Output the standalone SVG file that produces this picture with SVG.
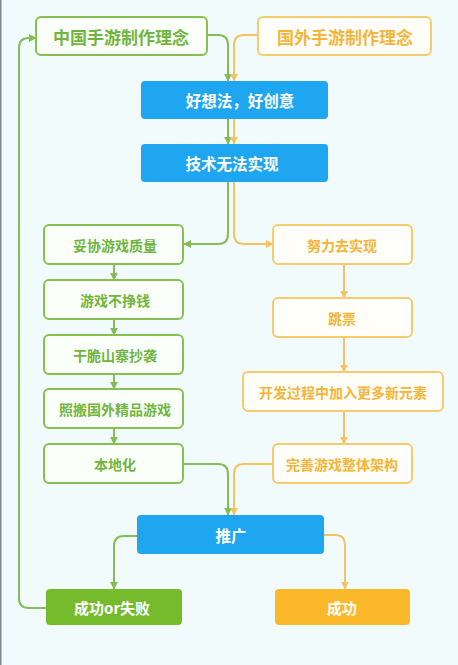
<svg xmlns="http://www.w3.org/2000/svg" width="458" height="665" viewBox="0 0 458 665">
<defs>
<style>
.bg{fill:#f1fbfc}
.gbox{fill:#fbfffa;stroke:#86c04e;stroke-width:2}
.obox{fill:#fffef8;stroke:#f6cb6e;stroke-width:2}
.blue{fill:#1fa6f0}
.gfill{fill:#76bb2c}
.ofill{fill:#fbb82a}
text{font-family:"Noto Sans CJK SC","Noto Sans",sans-serif;font-weight:bold;text-anchor:middle;dominant-baseline:central}
.gt{fill:#72b53e}
.ot{fill:#f3b53a}
.wt{fill:#ffffff}
.gl{fill:none;stroke:#86bb55;stroke-width:2}
.ol{fill:none;stroke:#f4c463;stroke-width:2}
</style>
<marker id="ga" viewBox="0 0 10 10" refX="9" refY="5" markerWidth="4" markerHeight="4" orient="auto" markerUnits="strokeWidth"><path d="M0,0 L10,5 L0,10 z" fill="#86bb55"/></marker>
<marker id="oa" viewBox="0 0 10 10" refX="9" refY="5" markerWidth="4" markerHeight="4" orient="auto" markerUnits="strokeWidth"><path d="M0,0 L10,5 L0,10 z" fill="#f4c463"/></marker>
</defs>
<rect class="bg" x="0" y="0" width="458" height="665"/>
<rect x="0" y="0" width="1.5" height="665" fill="#7d8a8e"/>

<g id="connectors">
<path class="gl" marker-end="url(#ga)" d="M207,35 H218 Q228,35 228,45 V81"/>
<path class="ol" marker-end="url(#oa)" d="M258,35 H244 Q234,35 234,45 V81"/>
<path class="gl" marker-end="url(#ga)" d="M228,119 V144"/>
<path class="ol" marker-end="url(#oa)" d="M234,119 V144"/>
<path class="gl" marker-end="url(#ga)" d="M228,182 V234 Q228,244 218,244 H184"/>
<path class="ol" marker-end="url(#oa)" d="M234,182 V234 Q234,244 244,244 H273"/>
<path class="gl" marker-end="url(#ga)" d="M114,264 V280"/>
<path class="gl" marker-end="url(#ga)" d="M114,319 V335"/>
<path class="gl" marker-end="url(#ga)" d="M114,374 V389"/>
<path class="gl" marker-end="url(#ga)" d="M114,428 V444"/>
<path class="ol" marker-end="url(#oa)" d="M344,264 V298"/>
<path class="ol" marker-end="url(#oa)" d="M344,337 V372"/>
<path class="ol" marker-end="url(#oa)" d="M344,411 V444"/>
<path class="gl" marker-end="url(#ga)" d="M183,464 H218 Q228,464 228,474 V515"/>
<path class="ol" marker-end="url(#oa)" d="M273,464 H244 Q234,464 234,474 V515"/>
<path class="gl" marker-end="url(#ga)" d="M137,536 H124 Q114,536 114,546 V589"/>
<path class="ol" marker-end="url(#oa)" d="M324,535 H335 Q345,535 345,545 V589"/>
<path class="gl" marker-end="url(#ga)" d="M46,608 H29 Q19,608 19,598 V48 Q19,38 29,38 H36"/>
</g>

<g id="n1"><rect class="gbox" x="36" y="17" width="171" height="38" rx="5"/><text class="gt" x="121" y="36" font-size="17">中国手游制作理念</text></g>
<g id="n2"><rect class="obox" x="258" y="17" width="173" height="38" rx="5"/><text class="ot" x="345" y="36" font-size="17">国外手游制作理念</text></g>
<g id="n3"><rect class="blue" x="141" y="81" width="187" height="38" rx="4"/><text class="wt" x="240" y="100" font-size="15.5">好想法，好创意</text></g>
<g id="n4"><rect class="blue" x="141" y="144" width="187" height="38" rx="4"/><text class="wt" x="232" y="163" font-size="15.5">技术无法实现</text></g>
<g id="n5"><rect class="gbox" x="44" y="225" width="139" height="39" rx="5"/><text class="gt" x="115" y="245" font-size="14">妥协游戏质量</text></g>
<g id="n6"><rect class="gbox" x="44" y="280" width="139" height="39" rx="5"/><text class="gt" x="115" y="300" font-size="14">游戏不挣钱</text></g>
<g id="n7"><rect class="gbox" x="44" y="335" width="139" height="39" rx="5"/><text class="gt" x="115" y="355" font-size="14">干脆山寨抄袭</text></g>
<g id="n8"><rect class="gbox" x="44" y="389" width="139" height="39" rx="5"/><text class="gt" x="115" y="409" font-size="14">照搬国外精品游戏</text></g>
<g id="n9"><rect class="gbox" x="44" y="444" width="139" height="39" rx="5"/><text class="gt" x="115" y="464" font-size="14">本地化</text></g>
<g id="n10"><rect class="obox" x="273" y="225" width="139" height="39" rx="5"/><text class="ot" x="342" y="245" font-size="14">努力去实现</text></g>
<g id="n11"><rect class="obox" x="273" y="298" width="139" height="39" rx="5"/><text class="ot" x="342" y="318" font-size="14">跳票</text></g>
<g id="n12"><rect class="obox" x="243" y="372" width="200" height="39" rx="5"/><text class="ot" x="343" y="392" font-size="14">开发过程中加入更多新元素</text></g>
<g id="n13"><rect class="obox" x="273" y="444" width="139" height="39" rx="5"/><text class="ot" x="342" y="464" font-size="14">完善游戏整体架构</text></g>
<g id="n14"><rect class="blue" x="137" y="515" width="187" height="39" rx="4"/><text class="wt" x="231" y="535" font-size="15.5">推广</text></g>
<g id="n15"><rect class="gfill" x="46" y="589" width="136" height="36" rx="4"/><text class="wt" x="112" y="607" font-size="15">成功or失败</text></g>
<g id="n16"><rect class="ofill" x="275" y="589" width="135" height="36" rx="4"/><text class="wt" x="342" y="607" font-size="15">成功</text></g>
</svg>
